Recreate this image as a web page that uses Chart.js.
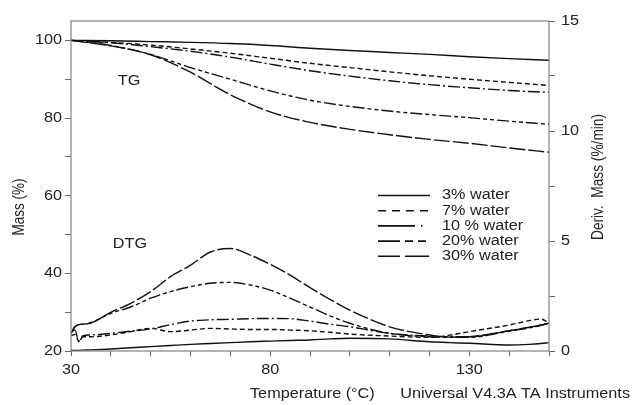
<!DOCTYPE html>
<html lang="en">
<head>
    <meta charset="UTF-8">
    <title>TG / DTG</title>
    <script src="https://cdn.jsdelivr.net/npm/chart.js"></script>
    <style>
        body { margin: 0; background: #fff; }
        canvas { display: block; }
    </style>
</head>
<body>
    <canvas id="grafico" width="632" height="405"></canvas>

    <script>
        // series names
        const series = ["3% water", "7% water", "10 % water", "20% water", "30% water"];

        // TG curves (Mass %, left axis)
        const tgTemp = [30, 40, 50, 60, 70, 80, 90, 100, 110, 120, 130, 140, 150];
        const tg3  = [100, 99.9, 99.7, 99.5, 99.2, 98.7, 98.0, 97.4, 96.9, 96.4, 95.8, 95.3, 94.9];
        const tg7  = [100, 99.5, 98.8, 97.8, 96.7, 95.4, 94.1, 93.0, 91.9, 90.9, 90.0, 89.2, 88.4];
        const tg10 = [100, 99.4, 98.4, 97.2, 95.7, 93.9, 92.2, 90.8, 89.6, 88.6, 87.8, 87.1, 86.6];
        const tg20 = [100, 98.7, 96.4, 93.0, 90.0, 87.0, 84.6, 83.0, 81.8, 80.9, 80.1, 79.2, 78.4];
        const tg30 = [100, 98.6, 96.3, 91.8, 86.0, 81.6, 78.9, 77.1, 75.7, 74.5, 73.5, 72.3, 71.2];

        // DTG curves (Deriv. Mass %/min, right axis)
        const dtgTemp = [30, 31, 32, 33, 35, 40, 45, 50, 55, 60, 65, 70, 75, 80, 85, 90, 95, 100, 110, 120, 125, 130, 140, 145, 148, 150];
        const dtg3  = [0.02, 0.03, 0.03, 0.04, 0.05, 0.09, 0.15, 0.2, 0.25, 0.3, 0.34, 0.38, 0.42, 0.45, 0.48, 0.5, 0.55, 0.58, 0.55, 0.42, 0.38, 0.35, 0.27, 0.3, 0.34, 0.38];
        const dtg7  = [0.7, 0.75, 0.45, 0.65, 0.65, 0.73, 0.88, 1.03, 0.88, 0.95, 1.03, 1.0, 0.98, 0.98, 0.95, 0.92, 0.85, 0.77, 0.68, 0.62, 0.72, 0.88, 1.18, 1.38, 1.45, 1.28];
        const dtg10 = [0.88, 0.95, 0.4, 0.7, 0.73, 0.8, 0.9, 1.0, 1.2, 1.36, 1.42, 1.44, 1.47, 1.48, 1.47, 1.36, 1.22, 1.1, 0.8, 0.68, 0.65, 0.65, 0.92, 1.07, 1.17, 1.28];
        const dtg20 = [0.8, 1.1, 1.2, 1.22, 1.3, 1.71, 2.0, 2.4, 2.7, 2.92, 3.08, 3.12, 3.0, 2.77, 2.4, 2.0, 1.6, 1.26, 0.8, 0.65, 0.62, 0.62, 0.9, 1.05, 1.16, 1.28];
        const dtg30 = [0.8, 1.1, 1.2, 1.22, 1.27, 1.76, 2.17, 2.7, 3.38, 3.9, 4.5, 4.66, 4.36, 3.94, 3.45, 2.88, 2.35, 1.86, 1.1, 0.73, 0.63, 0.65, 0.92, 1.08, 1.18, 1.26];

        // tick labels
        const tempLabels = [30, 80, 130];
        const massLabels = [20, 40, 60, 80, 100];
        const derivLabels = [0, 5, 10, 15];

        const fonte = '"Liberation Sans", Arial, sans-serif';
        const corTexto = "#222";
        const corEixo = "#8a8a8a";
        const esticar = 1.16; // the reference text is a bit wide

        // line styles for each series (curve dash, legend dash)
        const estilos = [
            { dash: [], legenda: [] },
            { dash: [5, 3], legenda: [8, 6] },
            { dash: [12, 3, 2, 3], legenda: [37, 6, 1.5, 40] },
            { dash: [12, 3, 4, 3, 4, 3], legenda: [22, 5, 8, 5, 8, 40] },
            { dash: [16, 3], legenda: [22, 5, 24, 40] }
        ];

        const tgSeries = [tg3, tg7, tg10, tg20, tg30];
        const dtgSeries = [dtg3, dtg7, dtg10, dtg20, dtg30];

        const datasets = [];
        series.forEach((nome, i) => {
            datasets.push({
                label: nome + " TG",
                data: tgTemp.map((t, k) => ({ x: t, y: tgSeries[i][k] })),
                yAxisID: "y",
                borderColor: "#111",
                borderWidth: 1.4,
                borderDash: estilos[i].dash,
                pointRadius: 0,
                cubicInterpolationMode: "monotone"
            });
            datasets.push({
                label: nome + " DTG",
                data: dtgTemp.map((t, k) => ({ x: t, y: dtgSeries[i][k] })),
                yAxisID: "y2",
                borderColor: "#111",
                borderWidth: 1.4,
                borderDash: estilos[i].dash,
                pointRadius: 0,
                cubicInterpolationMode: "monotone"
            });
        });

        function escrever(ctx, texto, x, y, alinhar, girar, tamanho, sx, sy) {
            ctx.save();
            ctx.translate(x, y);
            if (girar) ctx.rotate(-Math.PI / 2);
            ctx.scale(sx, sy || 1);
            ctx.font = tamanho + "px " + fonte;
            ctx.textAlign = alinhar;
            ctx.textBaseline = "middle";
            ctx.fillText(texto, 0, 0);
            ctx.restore();
        }

        const textos = {
            id: "textos",
            afterDraw(chart) {
                const ctx = chart.ctx;
                const a = chart.chartArea;
                ctx.save();

                // frame
                ctx.strokeStyle = corEixo;
                ctx.lineWidth = 1.3;
                ctx.setLineDash([]);
                ctx.strokeRect(a.left, a.top, a.right - a.left, a.bottom - a.top);

                ctx.fillStyle = corTexto;

                // tick labels
                tempLabels.forEach(v => escrever(ctx, String(v), chart.scales.x.getPixelForValue(v), 370, "center", false, 14, esticar));
                massLabels.forEach(v => escrever(ctx, String(v), 62, chart.scales.y.getPixelForValue(v), "right", false, 14, esticar));
                derivLabels.forEach(v => escrever(ctx, String(v), 561, chart.scales.y2.getPixelForValue(v), "left", false, 14, esticar));

                // annotations
                escrever(ctx, "TG", 129, 81, "center", false, 14, esticar);
                escrever(ctx, "DTG", 130, 244, "center", false, 14, esticar);

                // legend
                series.forEach((nome, i) => {
                    const y = 195.5 + i * 15.2;
                    ctx.strokeStyle = "#111";
                    ctx.lineWidth = 1.6;
                    ctx.setLineDash(estilos[i].legenda);
                    ctx.beginPath();
                    ctx.moveTo(378, y);
                    ctx.lineTo(430, y);
                    ctx.stroke();
                    ctx.setLineDash([]);
                    escrever(ctx, nome, 442, y, "left", false, 14, esticar);
                });

                // axis titles
                escrever(ctx, "Mass (%)", 20, 207, "center", true, 13.5, 1, esticar);
                escrever(ctx, "Deriv.  Mass (%/min)", 599, 177, "center", true, 13.7, 1, esticar);
                escrever(ctx, "Temperature (°C)", 250, 394, "left", false, 14, esticar);
                escrever(ctx, "Universal V4.3A TA Instruments", 630, 394, "right", false, 14, esticar);

                ctx.restore();
            }
        };

        const gradeEixo = { drawOnChartArea: false, drawTicks: true, tickLength: 6, color: "#666" };

        new Chart(document.getElementById("grafico"), {
            type: "line",
            data: { datasets: datasets },
            options: {
                responsive: false,
                animation: false,
                devicePixelRatio: 1,
                layout: { padding: { top: 21, left: 0, right: 0, bottom: 0 } },
                plugins: {
                    legend: { display: false },
                    tooltip: { enabled: false }
                },
                scales: {
                    x: {
                        type: "linear",
                        min: 30,
                        max: 150,
                        grid: { drawOnChartArea: false, drawTicks: true, tickLength: 5, color: "#666" },
                        border: { display: false },
                        ticks: { stepSize: 10, autoSkip: false, display: false },
                        afterFit: s => { s.height = 54; }
                    },
                    y: {
                        position: "left",
                        min: 20,
                        max: 105,
                        grid: gradeEixo,
                        border: { display: false },
                        afterBuildTicks: s => {
                            s.ticks = [20, 30, 40, 50, 60, 70, 80, 90, 100].map(v => ({ value: v }));
                        },
                        ticks: { display: false },
                        afterFit: s => { s.width = 71; }
                    },
                    y2: {
                        position: "right",
                        min: 0,
                        max: 15,
                        grid: gradeEixo,
                        border: { display: false },
                        afterBuildTicks: s => {
                            s.ticks = [0, 2.5, 5, 7.5, 10, 12.5, 15].map(v => ({ value: v }));
                        },
                        ticks: { display: false },
                        afterFit: s => { s.width = 83; }
                    }
                }
            },
            plugins: [textos]
        });
    </script>
</body>
</html>
